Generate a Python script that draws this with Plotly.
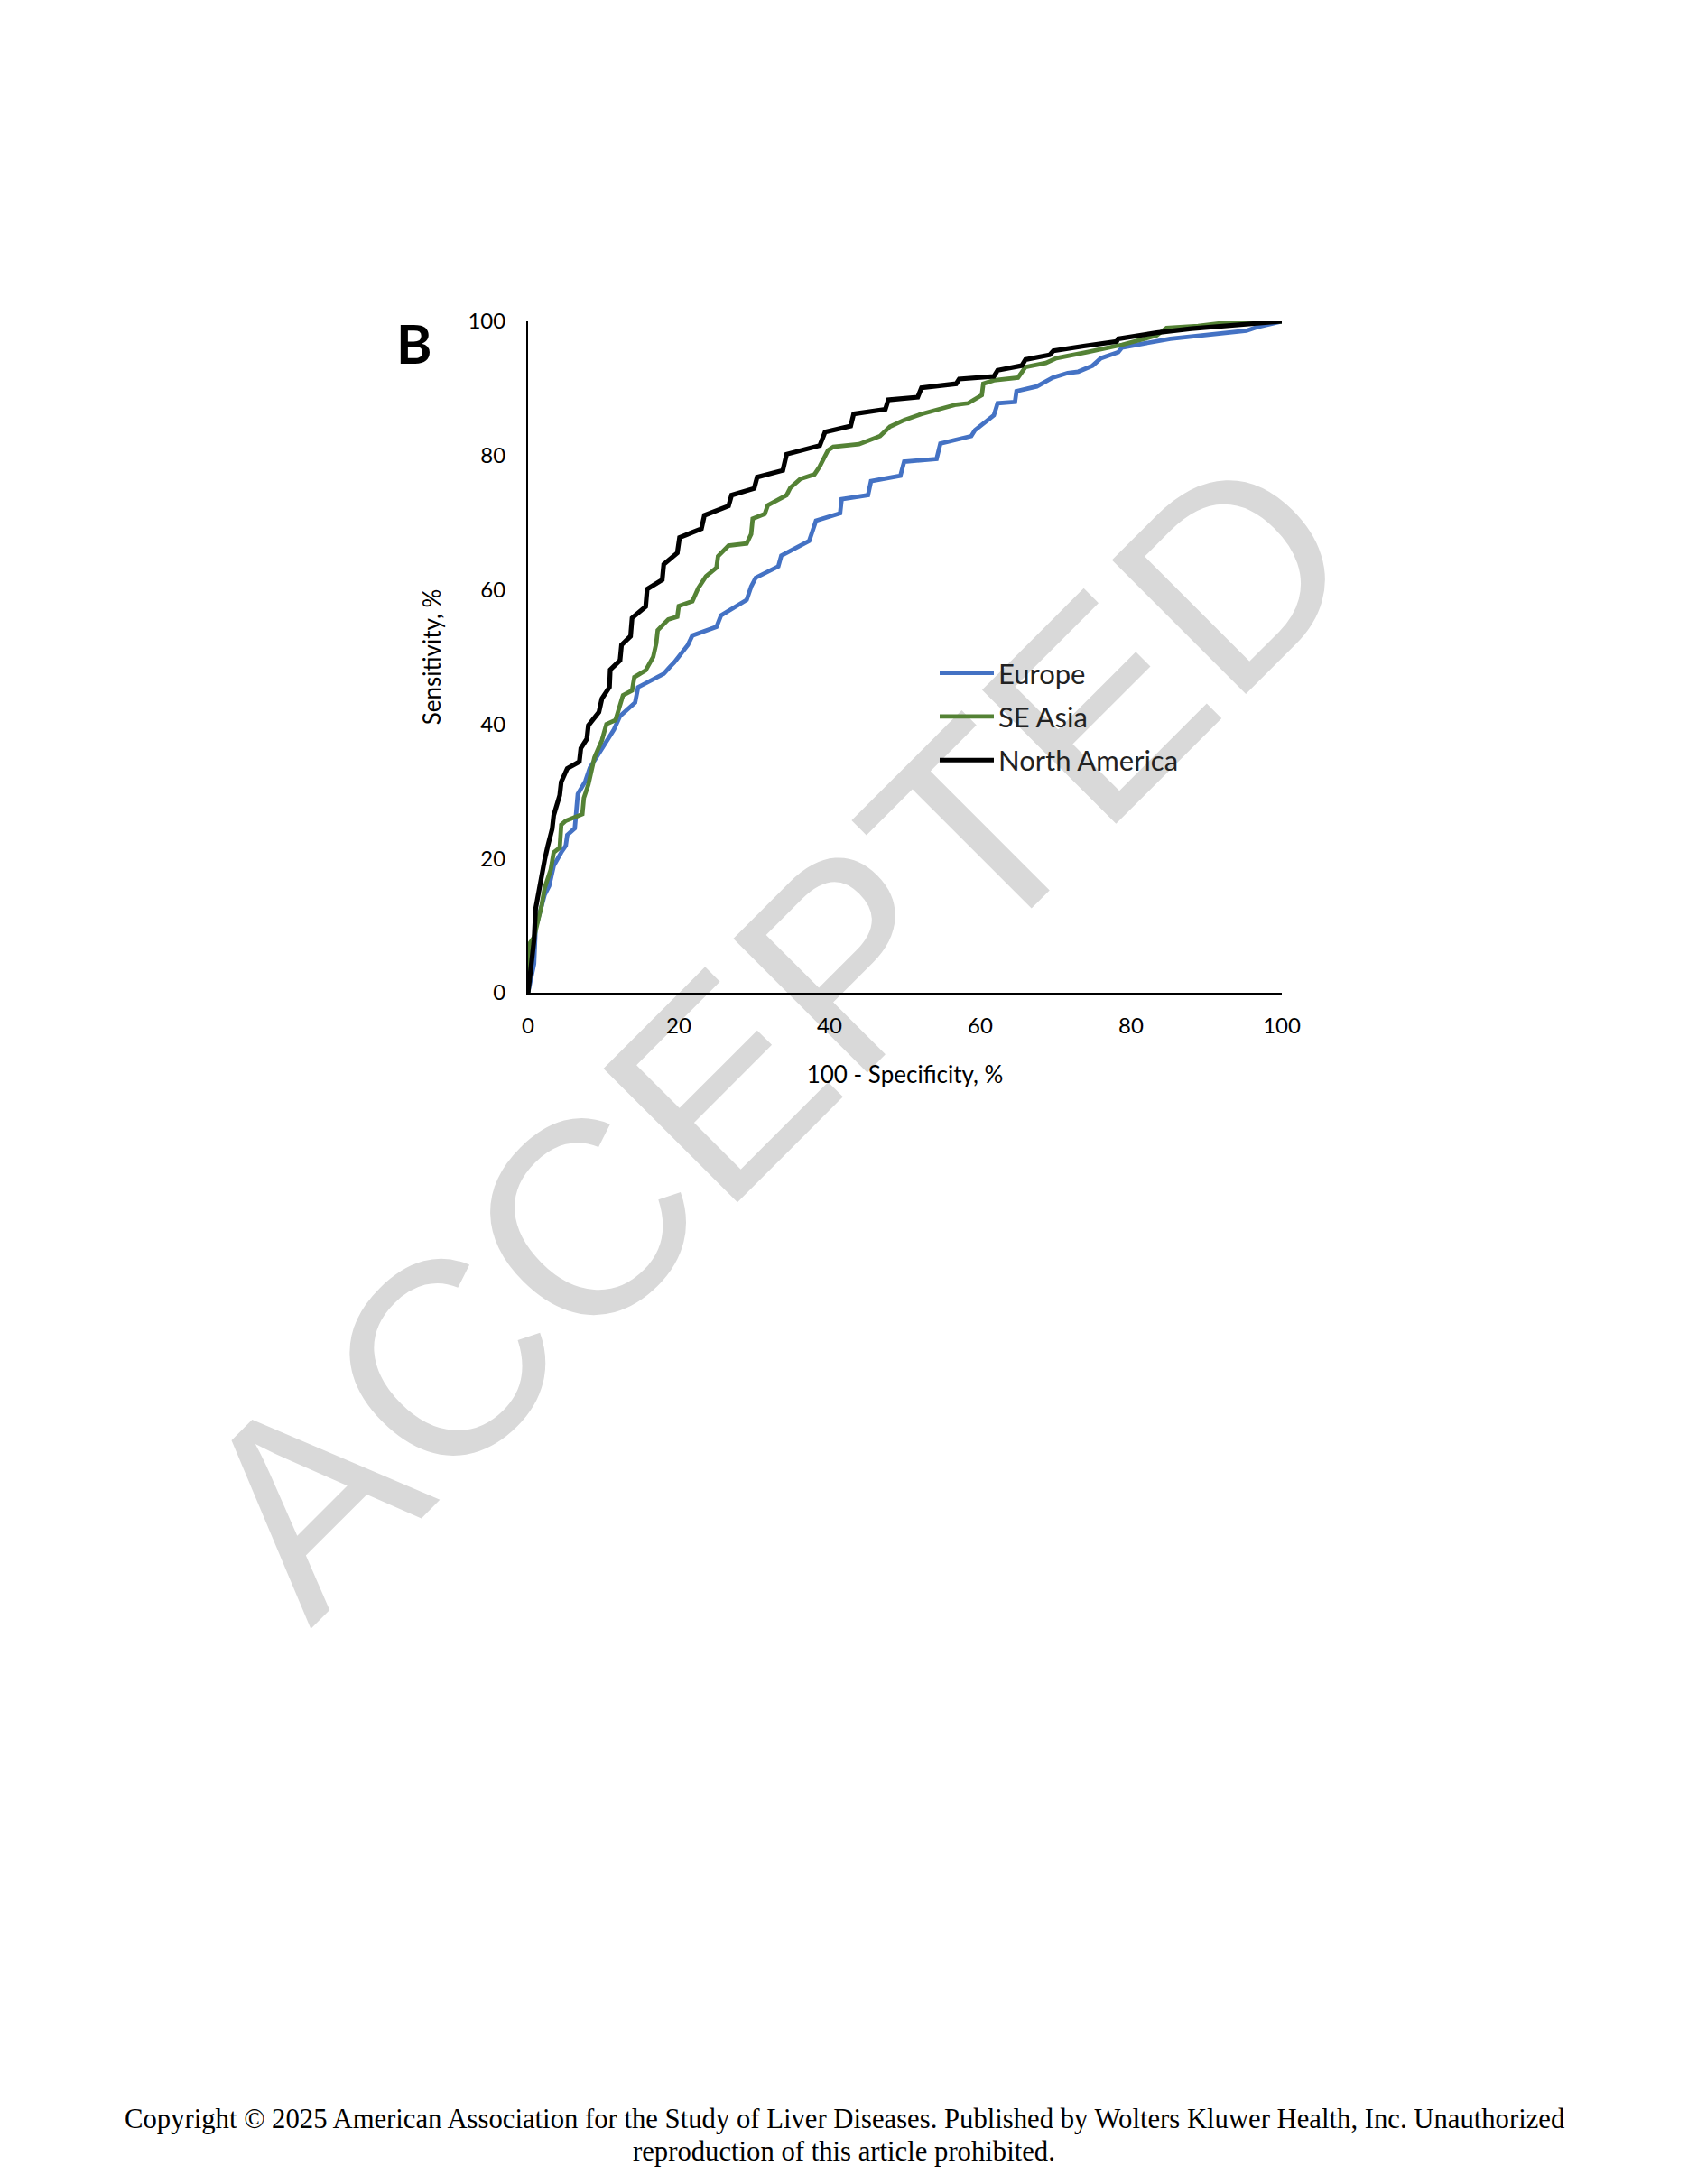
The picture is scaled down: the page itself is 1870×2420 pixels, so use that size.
import plotly.graph_objects as go

# ---- data ----
europe_x = [0, 0.8, 1.0, 1.6, 2.2, 2.8, 3.4, 4.4, 5.0, 5.2, 6.2, 6.6, 7.6, 8.2, 9.0, 10.2, 11.4, 12.2, 14.2, 14.6,
            18.0, 18.8, 19.4, 21.2, 21.8, 25.0, 25.6, 29.0, 29.6, 30.2, 33.2, 33.6, 37.3, 38.2, 41.4, 41.6, 45.1, 45.5,
            49.4, 49.9, 54.2, 54.7, 58.8, 59.3, 61.8, 62.3, 64.6, 64.8, 67.5, 69.6, 71.6, 73.0, 74.9, 76.0, 78.3, 78.8,
            83.4, 85.2, 95.3, 96.6, 100]
europe_y = [0, 4.3, 9.6, 12.3, 14.6, 15.9, 18.9, 20.9, 21.9, 23.5, 24.5, 29.6, 31.5, 33.5, 34.9, 36.9, 39.2, 41.2, 43.2,
            45.5, 47.5, 48.5, 49.2, 51.8, 53.2, 54.5, 56.2, 58.5, 60.5, 61.8, 63.5, 65.1, 67.3, 70.3, 71.4, 73.5, 74.1,
            76.2, 77.0, 79.1, 79.5, 81.8, 82.9, 83.8, 86.0, 87.8, 88.0, 89.6, 90.3, 91.6, 92.3, 92.5, 93.4, 94.5, 95.4,
            96.1, 97.0, 97.4, 98.6, 99.1, 100]

seasia_x = [0, 0.2, 0.8, 1.4, 1.8, 2.2, 3.0, 3.4, 4.2, 4.4, 5.0, 7.2, 7.4, 8.0, 8.8, 9.8, 10.4, 11.6, 12.0, 12.6,
            13.8, 14.1, 15.6, 16.6, 17.0, 17.2, 18.6, 19.8, 20.0, 21.8, 22.6, 23.6, 25.0, 25.2, 26.6, 29.0, 29.6, 29.8,
            31.4, 31.8, 34.3, 34.8, 36.1, 38.0, 38.7, 39.8, 40.5, 43.9, 46.7, 48.0, 49.9, 52.2, 54.5, 56.8, 58.4, 60.2,
            60.4, 61.8, 65.0, 66.0, 68.7, 70.1, 74.2, 78.8, 83.4, 84.7, 88.9, 93.9, 100]
seasia_y = [0, 7.3, 8.3, 11.0, 13.0, 15.6, 18.3, 20.9, 21.6, 25.0, 25.6, 26.6, 29.0, 31.0, 35.0, 37.6, 40.0, 40.6, 42.3,
            44.3, 45.0, 47.0, 48.0, 50.0, 52.0, 54.0, 55.6, 56.0, 57.6, 58.3, 60.3, 62.0, 63.3, 65.0, 66.6, 66.9, 68.3,
            70.6, 71.3, 72.6, 74.1, 75.2, 76.5, 77.2, 78.4, 80.8, 81.3, 81.7, 82.9, 84.3, 85.3, 86.2, 86.9, 87.6, 87.8,
            89.0, 90.7, 91.2, 91.6, 93.2, 93.8, 94.5, 95.4, 96.5, 97.9, 99.0, 99.3, 100, 100]

namerica_x = [0, 0.8, 1.0, 1.6, 2.2, 2.6, 3.2, 3.4, 4.2, 4.4, 5.2, 6.8, 7.0, 7.8, 8.0, 9.4, 9.8, 10.8, 10.9, 12.2,
              12.4, 13.6, 13.8, 15.6, 15.8, 17.8, 18.0, 19.8, 20.1, 23.0, 23.4, 26.6, 27.0, 30.0, 30.4, 33.8, 34.3,
              38.7, 39.4, 42.8, 43.2, 47.4, 47.8, 51.7, 52.2, 56.8, 57.2, 61.8, 62.3, 65.5, 66.0, 69.2, 69.7, 73.7,
              78.1, 78.3, 83.4, 88.0, 100]
namerica_y = [0, 7.9, 12.5, 16.5, 19.8, 21.8, 24.4, 26.4, 29.4, 31.4, 33.4, 34.4, 36.4, 37.8, 39.8, 41.8, 43.8, 45.5,
              48.1, 49.5, 51.8, 53.1, 55.8, 57.5, 60.1, 61.5, 63.8, 65.5, 67.8, 69.1, 71.1, 72.5, 74.1, 75.1, 76.8,
              77.8, 80.2, 81.5, 83.5, 84.4, 86.2, 86.9, 88.3, 88.7, 90.1, 90.7, 91.4, 91.8, 92.7, 93.4, 94.3, 95.0,
              95.6, 96.3, 97.0, 97.4, 98.3, 98.9, 100]

series_names = ["Europe", "SE Asia", "North America"]
tick_vals = [0, 20, 40, 60, 80, 100]

# ---- figure ----
OFF = 8                      # page body margin
W, H = 1870 - 2 * OFF, 2420 - 2 * OFF
L, R, T, B = 585, 1420, 356, 1100  # plot-area box in page pixels
FONT = "Lato, Calibri, Carlito, sans-serif"

fig = go.Figure()
series = [
    (europe_x, europe_y, "#4472C4", 4.8),
    (seasia_x, seasia_y, "#548235", 4.8),
    (namerica_x, namerica_y, "#000000", 5.2),
]
for name, (xs, ys, col, w) in zip(series_names, series):
    fig.add_trace(go.Scatter(x=xs, y=ys, mode="lines", name=name, legendgroup=name,
                             line=dict(color=col, width=w)))

def py(ypix):
    return (B - ypix) / (B - T)

def px(xpix):
    return (xpix - L) / (R - L)

fig.update_layout(
    width=W, height=H,
    margin=dict(l=L - OFF, r=W - (R - OFF), t=T - OFF, b=H - (B - OFF), pad=0),
    paper_bgcolor="white", plot_bgcolor="white",
    font=dict(family=FONT, color="#000000", size=24),
    showlegend=True,
    legend=dict(x=px(1036), y=py(719), xanchor="left", yanchor="top",
                font=dict(size=31, family=FONT, color="#222222"),
                bgcolor="rgba(0,0,0,0)", itemwidth=60, tracegroupgap=5,
                traceorder="grouped"),
    xaxis=dict(range=[0, 100], tickvals=tick_vals, showgrid=False, zeroline=False,
               showline=True, linecolor="#000000", linewidth=2, ticks="",
               ticklabelstandoff=14, tickfont=dict(size=24),
               title=dict(text="100 - Specificity, %", font=dict(size=26), standoff=33)),
    yaxis=dict(range=[0, 100], tickvals=tick_vals, showgrid=False, zeroline=False,
               showline=True, linecolor="#000000", linewidth=2, ticks="",
               ticklabelstandoff=18, tickfont=dict(size=24),
               title=dict(text="Sensitivity, %", font=dict(size=26), standoff=22)),
)

# watermark below the data
cx, cy, half = 836, 1123, 560
fig.add_shape(type="rect", xref="paper", yref="paper",
              x0=px(cx - half), x1=px(cx + half), y0=py(cy + half), y1=py(cy - half),
              line=dict(width=0), fillcolor="rgba(0,0,0,0)", layer="below",
              label=dict(text="ACCEPTED", textangle=-45, textposition="middle center",
                         font=dict(family="Liberation Sans, Arial, sans-serif", size=305, color="#d9d9d9")))

# panel letter
fig.add_annotation(text="<b>B</b>", xref="paper", yref="paper", x=px(459), y=py(380),
                   xanchor="center", yanchor="middle", showarrow=False,
                   font=dict(family=FONT, size=60, color="#000000"))

# footer
footer1 = "Copyright \u00a9 2025 American Association for the Study of Liver Diseases. Published by Wolters Kluwer Health, Inc. Unauthorized"
footer2 = "reproduction of this article prohibited."
for txt, yp in [(footer1, 2348), (footer2, 2384)]:
    fig.add_annotation(text=txt, xref="paper", yref="paper", x=px(935), y=py(yp),
                       xanchor="center", yanchor="middle", showarrow=False,
                       font=dict(family="Liberation Serif, Times New Roman, serif", size=30.7, color="#000000"))

fig.write_html("out.html")
